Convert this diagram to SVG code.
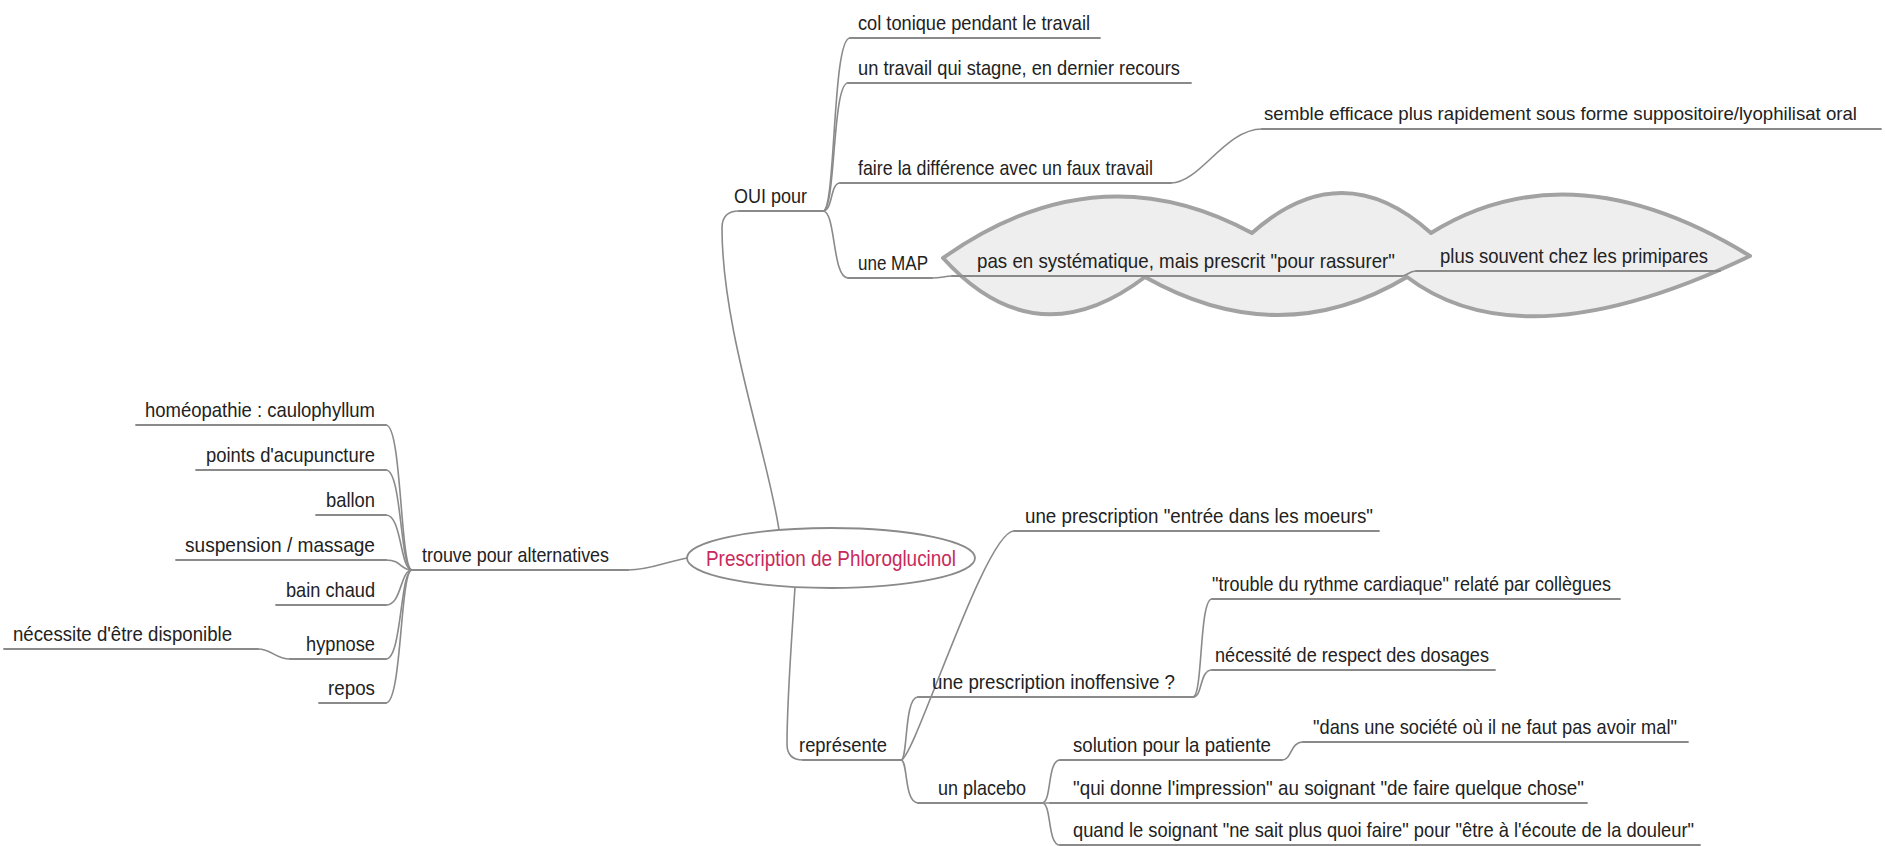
<svg xmlns="http://www.w3.org/2000/svg" width="1885" height="846" viewBox="0 0 1885 846">
<style>
.t{font-family:"Liberation Sans",Arial,sans-serif;font-size:21px;fill:#222}
.e{text-anchor:end}
.u{stroke:#8a8a8a;stroke-width:1.8;fill:none;stroke-linecap:round}
.c{stroke:#8a8a8a;stroke-width:1.6;fill:none;stroke-linecap:round}
.cloud{fill:#eeeeee;stroke:#a2a2a2;stroke-width:4;stroke-linejoin:round}
.root{fill:#ffffff;stroke:#8a8a8a;stroke-width:1.8}
.rt{font-family:"Liberation Sans",Arial,sans-serif;font-size:22px;fill:#c72a5c;text-anchor:middle}
</style>
<rect width="1885" height="846" fill="#ffffff"/>
<g id="cloud">
<path class="cloud" d="M943,258 Q1097,149 1252,233 Q1342,153 1431,233 Q1571,146 1750,256 Q1523,365 1407,277 Q1280,353 1145,277 Q1036,360 943,258 Z"/>
</g>
<g id="connectors">
<path class="c" d="M779,530 C768,455 722,330 722,228 Q722,211 739,211"/>
<path class="c" d="M823,211 C836,211 832,38 850,38"/>
<path class="c" d="M823,211 C836,211 832,83 848,83"/>
<path class="c" d="M823,211 C833,211 830,183 840,183"/>
<path class="c" d="M823,211 C836,211 832,278 848,278"/>
<path class="c" d="M1171,183 C1200,183 1225,129 1262,129"/>
<path class="c" d="M932,278 C942,278 944,276 952,276"/>
<path class="c" d="M1402,276 C1408,276 1408,271 1416,271"/>
<path class="c" d="M687,558 C665,562 650,570 628,570"/>
<path class="c" d="M412,570 C400,570 402,425 386,425"/>
<path class="c" d="M412,570 C400,570 402,470 386,470"/>
<path class="c" d="M412,570 C400,570 402,515 386,515"/>
<path class="c" d="M412,570 C400,570 402,560 386,560"/>
<path class="c" d="M412,570 C400,570 402,605 386,605"/>
<path class="c" d="M412,570 C400,570 402,659 386,659"/>
<path class="c" d="M412,570 C400,570 402,703 386,703"/>
<path class="c" d="M290,659 C275,659 272,649 258,649"/>
<path class="c" d="M795,587 C791,650 787,700 787,744 Q787,760 803,760"/>
<path class="c" d="M901,760 C914,760 985,531 1014,531"/>
<path class="c" d="M901,760 C908,760 904,697 918,697"/>
<path class="c" d="M901,760 C908,760 904,803 918,803"/>
<path class="c" d="M1193,697 C1203,697 1199,599 1212,599"/>
<path class="c" d="M1193,697 C1203,697 1199,670 1212,670"/>
<path class="c" d="M1042,803 C1052,803 1047,760 1060,760"/>
<path class="c" d="M1042,803 L1050,803"/>
<path class="c" d="M1042,803 C1052,803 1047,845 1060,845"/>
<path class="c" d="M1282,760 C1292,760 1290,742 1303,742"/>
</g>
<g id="root">
<ellipse class="root" cx="831" cy="558" rx="144" ry="30"/>
<text class="rt" x="831" y="566" textLength="250" lengthAdjust="spacingAndGlyphs">Prescription de Phloroglucinol</text>
</g>
<g id="oui">
<line class="u" x1="739" y1="211" x2="823" y2="211"/>
<text class="t" x="734" y="203" textLength="73" lengthAdjust="spacingAndGlyphs">OUI pour</text>
</g>
<g id="col">
<line class="u" x1="850" y1="38" x2="1100" y2="38"/>
<text class="t" x="858" y="30" textLength="232" lengthAdjust="spacingAndGlyphs">col tonique pendant le travail</text>
</g>
<g id="stagne">
<line class="u" x1="848" y1="83" x2="1191" y2="83"/>
<text class="t" x="858" y="75" textLength="322" lengthAdjust="spacingAndGlyphs">un travail qui stagne, en dernier recours</text>
</g>
<g id="faux">
<line class="u" x1="840" y1="183" x2="1171" y2="183"/>
<text class="t" x="858" y="175" textLength="295" lengthAdjust="spacingAndGlyphs">faire la différence avec un faux travail</text>
</g>
<g id="semble">
<line class="u" x1="1262" y1="129" x2="1881" y2="129"/>
<text class="t" x="1264" y="120" style="font-size:18.5px" textLength="593" lengthAdjust="spacingAndGlyphs">semble efficace plus rapidement sous forme suppositoire/lyophilisat oral</text>
</g>
<g id="map">
<line class="u" x1="848" y1="278" x2="932" y2="278"/>
<text class="t" x="858" y="270" textLength="70" lengthAdjust="spacingAndGlyphs">une MAP</text>
</g>
<g id="rassurer">
<line class="u" x1="952" y1="276" x2="1402" y2="276"/>
<text class="t" x="977" y="268" textLength="418" lengthAdjust="spacingAndGlyphs">pas en systématique, mais prescrit "pour rassurer"</text>
</g>
<g id="primipares">
<line class="u" x1="1416" y1="271" x2="1720" y2="271"/>
<text class="t" x="1440" y="263" textLength="268" lengthAdjust="spacingAndGlyphs">plus souvent chez les primipares</text>
</g>
<g id="trouve">
<line class="u" x1="412" y1="570" x2="628" y2="570"/>
<text class="t" x="422" y="562" textLength="187" lengthAdjust="spacingAndGlyphs">trouve pour alternatives</text>
</g>
<g id="homeo">
<line class="u" x1="136" y1="425" x2="386" y2="425"/>
<text class="t e" x="375" y="417" textLength="230" lengthAdjust="spacingAndGlyphs">homéopathie : caulophyllum</text>
</g>
<g id="acupuncture">
<line class="u" x1="196" y1="470" x2="386" y2="470"/>
<text class="t e" x="375" y="462" textLength="169" lengthAdjust="spacingAndGlyphs">points d'acupuncture</text>
</g>
<g id="ballon">
<line class="u" x1="316" y1="515" x2="386" y2="515"/>
<text class="t e" x="375" y="507" textLength="49" lengthAdjust="spacingAndGlyphs">ballon</text>
</g>
<g id="suspension">
<line class="u" x1="176" y1="560" x2="386" y2="560"/>
<text class="t e" x="375" y="552" textLength="190" lengthAdjust="spacingAndGlyphs">suspension / massage</text>
</g>
<g id="bain">
<line class="u" x1="276" y1="605" x2="386" y2="605"/>
<text class="t e" x="375" y="597" textLength="89" lengthAdjust="spacingAndGlyphs">bain chaud</text>
</g>
<g id="hypnose">
<line class="u" x1="290" y1="659" x2="386" y2="659"/>
<text class="t e" x="375" y="651" textLength="69" lengthAdjust="spacingAndGlyphs">hypnose</text>
</g>
<g id="disponible">
<line class="u" x1="4" y1="649" x2="258" y2="649"/>
<text class="t" x="13" y="641" textLength="219" lengthAdjust="spacingAndGlyphs">nécessite d'être disponible</text>
</g>
<g id="repos">
<line class="u" x1="319" y1="703" x2="386" y2="703"/>
<text class="t e" x="375" y="695" textLength="47" lengthAdjust="spacingAndGlyphs">repos</text>
</g>
<g id="represente">
<line class="u" x1="803" y1="760" x2="901" y2="760"/>
<text class="t" x="799" y="752" textLength="88" lengthAdjust="spacingAndGlyphs">représente</text>
</g>
<g id="moeurs">
<line class="u" x1="1014" y1="531" x2="1379" y2="531"/>
<text class="t" x="1025" y="523" textLength="348" lengthAdjust="spacingAndGlyphs">une prescription "entrée dans les moeurs"</text>
</g>
<g id="inoffensive">
<line class="u" x1="918" y1="697" x2="1193" y2="697"/>
<text class="t" x="932" y="689" textLength="243" lengthAdjust="spacingAndGlyphs">une prescription inoffensive ?</text>
</g>
<g id="trouble">
<line class="u" x1="1212" y1="599" x2="1620" y2="599"/>
<text class="t" x="1212" y="591" textLength="399" lengthAdjust="spacingAndGlyphs">"trouble du rythme cardiaque" relaté par collègues</text>
</g>
<g id="dosages">
<line class="u" x1="1212" y1="670" x2="1495" y2="670"/>
<text class="t" x="1215" y="662" textLength="274" lengthAdjust="spacingAndGlyphs">nécessité de respect des dosages</text>
</g>
<g id="placebo">
<line class="u" x1="918" y1="803" x2="1042" y2="803"/>
<text class="t" x="938" y="795" textLength="88" lengthAdjust="spacingAndGlyphs">un placebo</text>
</g>
<g id="solution">
<line class="u" x1="1060" y1="760" x2="1282" y2="760"/>
<text class="t" x="1073" y="752" textLength="198" lengthAdjust="spacingAndGlyphs">solution pour la patiente</text>
</g>
<g id="societe">
<line class="u" x1="1303" y1="742" x2="1688" y2="742"/>
<text class="t" x="1313" y="734" textLength="364" lengthAdjust="spacingAndGlyphs">"dans une société où il ne faut pas avoir mal"</text>
</g>
<g id="impression">
<line class="u" x1="1050" y1="803" x2="1587" y2="803"/>
<text class="t" x="1073" y="795" textLength="511" lengthAdjust="spacingAndGlyphs">"qui donne l'impression" au soignant "de faire quelque chose"</text>
</g>
<g id="douleur">
<line class="u" x1="1060" y1="845" x2="1700" y2="845"/>
<text class="t" x="1073" y="837" textLength="621" lengthAdjust="spacingAndGlyphs">quand le soignant "ne sait plus quoi faire" pour "être à l'écoute de la douleur"</text>
</g>
</svg>
